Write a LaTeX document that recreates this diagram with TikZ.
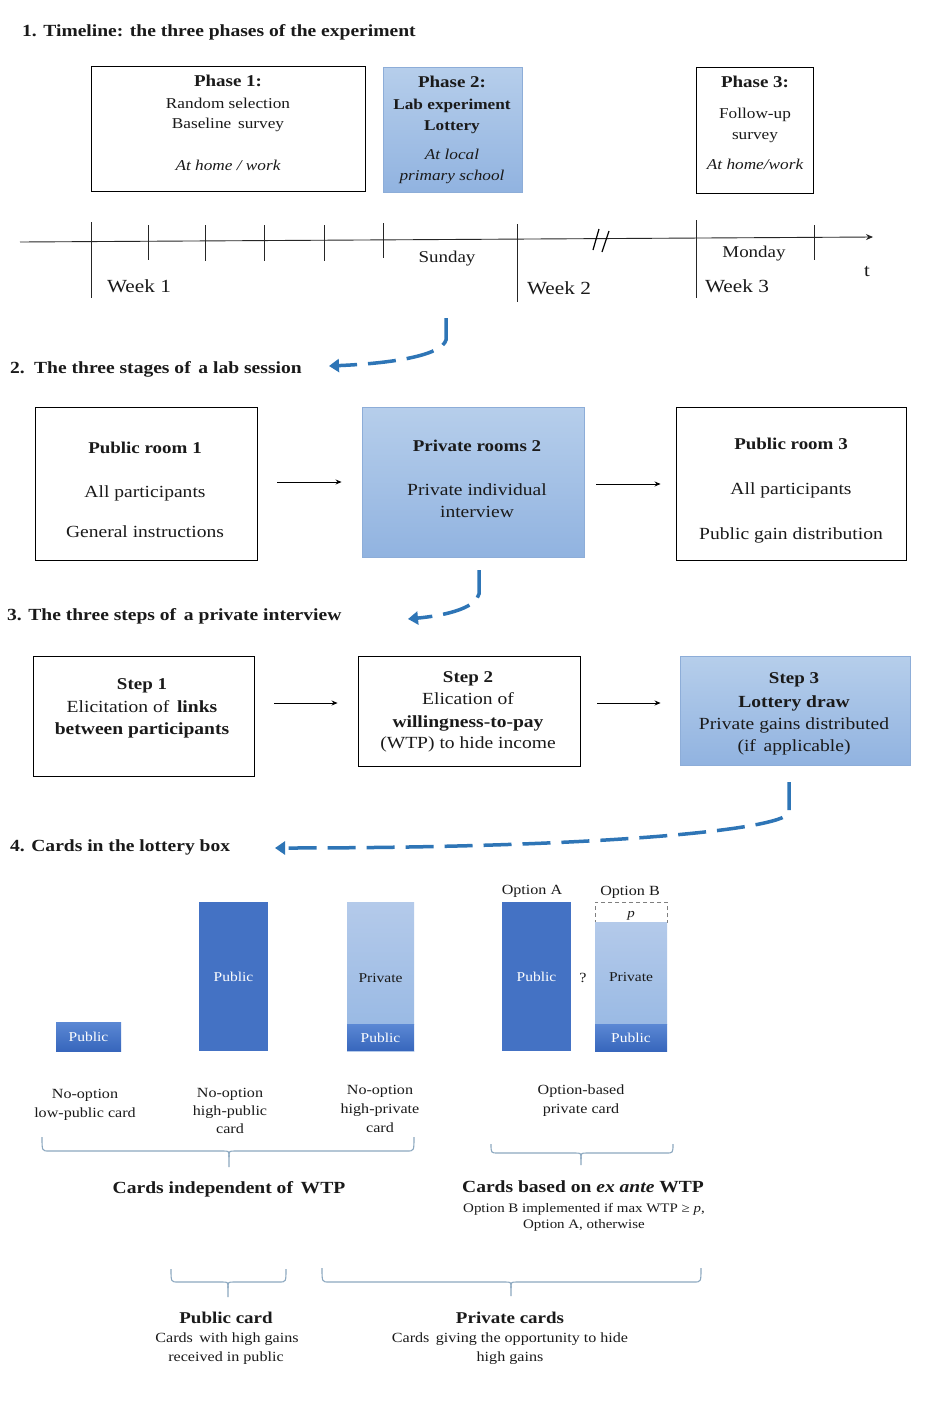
\documentclass[tikz,border=0pt]{standalone}
\usepackage{fontspec}
\setmainfont{Liberation Serif}[FakeStretch=1.15]
\usetikzlibrary{arrows.meta,calc}
\definecolor{arrowblue}{HTML}{2E75B6}
\definecolor{boxtop}{HTML}{B6CEEB}
\definecolor{boxbot}{HTML}{91B3E0}
\definecolor{boxline}{HTML}{8DADD8}
\definecolor{carddark}{HTML}{4472C4}
\definecolor{cardbtop}{HTML}{5B88D4}
\definecolor{cardbbot}{HTML}{3766BC}
\definecolor{cardltop}{HTML}{B4CAEA}
\definecolor{cardlbot}{HTML}{9ABAE4}
\definecolor{bracecol}{HTML}{8CA8C0}
\definecolor{txtcol}{HTML}{1A1A1A}
\definecolor{dashgray}{HTML}{7F7F7F}
\newcommand\fsz[1]{\fontsize{#1}{#1}\selectfont}
\newcommand\mybrace[6]{% x1 x2 xm ytop yh ybot
  \draw[bracepath] (#1,#4) .. controls (#1,#5) .. (#1+7,#5) -- (#3-6,#5)
     .. controls (#3,#5) .. (#3,#5+6) -- (#3,#6);
  \draw[bracepath] (#3,#5+6) .. controls (#3,#5) .. (#3+6,#5) -- (#2-7,#5)
     .. controls (#2,#5) .. (#2,#4);}
\tikzset{
  wbox/.style={draw=black, line width=0.9pt, fill=white, inner sep=0pt},
  bbox/.style={draw=boxline, line width=0.9pt, top color=boxtop, bottom color=boxbot, inner sep=0pt},
  tx/.style={inner sep=0pt, anchor=base, text=txtcol},
  ttl/.style={inner sep=0pt, anchor=base west, text=txtcol, font=\fsz{17}\bfseries},
  blk/.style={draw=black, line width=0.8pt, -{Stealth[length=6pt,width=5pt]}},
  bluedash/.style={draw=arrowblue, line width=3.5pt, dash pattern=on 28pt off 11pt,
     -{Triangle[length=10pt,width=13pt]}},
  tick/.style={draw=black!85, line width=0.9pt},
  bracepath/.style={draw=bracecol, line width=1.1pt},
  darkcard/.style={fill=carddark, draw=none, inner sep=0pt, text=white, font=\fsz{13.5}},
  botcard/.style={top color=cardbtop, bottom color=cardbbot, draw=none, inner sep=0pt, text=white, font=\fsz{13.5}},
  lightcard/.style={top color=cardltop, bottom color=cardlbot, draw=none, inner sep=0pt},
  dashcard/.style={draw=dashgray, dash pattern=on 4pt off 3pt, line width=0.9pt, fill=white, inner sep=0pt},
}
\begin{document}
\begin{tikzpicture}[x=1pt,y=-1pt]
\useasboundingbox (0,0) rectangle (935,1411);
\fill[white] (0,0) rectangle (935,1411);

% ---------------- Section 1
\node[ttl] (t1) at (22,36) {1. Timeline: the three phases of the experiment};

\node[wbox, minimum width=274pt, minimum height=125pt] (ph1) at (228,128.5) {};
\node[bbox, minimum width=139pt, minimum height=125pt] (ph2) at (452.5,129.5) {};
\node[wbox, minimum width=117pt, minimum height=126pt] (ph3) at (754.5,130) {};

\node[tx, font=\fsz{16.5}\bfseries] (ph1a) at (228,86) {Phase 1:};
\node[tx, font=\fsz{15}] (ph1b) at (228,108) {Random selection};
\node[tx, font=\fsz{15}] (ph1c) at (228,128) {Baseline\, survey};
\node[tx, font=\fsz{15}\itshape] (ph1d) at (228,170) {At home / work};

\node[tx, font=\fsz{16.5}\bfseries] (ph2a) at (452,87) {Phase 2:};
\node[tx, font=\fsz{15}\bfseries] (ph2b) at (452,109) {Lab experiment};
\node[tx, font=\fsz{15}\bfseries] (ph2c) at (452,130) {Lottery};
\node[tx, font=\fsz{15}\itshape] (ph2d) at (452,159) {At local};
\node[tx, font=\fsz{15}\itshape] (ph2e) at (452,180) {primary school};

\node[tx, font=\fsz{16.5}\bfseries] (ph3a) at (755,87) {Phase 3:};
\node[tx, font=\fsz{15}] (ph3b) at (755,118) {Follow-up};
\node[tx, font=\fsz{15}] (ph3c) at (755,139) {survey};
\node[tx, font=\fsz{15}\itshape] (ph3d) at (755,169) {At home/work};

% timeline axis
\coordinate (ax0) at (20,242);
\coordinate (ax1) at (873,237);
\draw[black!85, line width=0.9pt, -{Stealth[length=7pt,width=6pt]}] (ax0) -- (ax1);
\draw[tick] (91,222) -- (91,298);
\draw[tick] (148,225) -- (148,260);
\draw[tick] (205,225) -- (205,261);
\draw[tick] (264,225) -- (264,261);
\draw[tick] (324,225) -- (324,261);
\draw[tick] (383,223) -- (383,258);
\draw[tick] (517,224) -- (517,302);
\draw[tick] (696,220) -- (696,298);
\draw[tick] (814,225) -- (814,260);
% break mark
\draw[black, line width=1.2pt] (593,250) -- (599,229);
\draw[black, line width=1.2pt] (602,252) -- (609,231);

\node[tx, font=\fsz{18.5}] (w1) at (139,292) {Week 1};
\node[tx, font=\fsz{16.5}] (sun) at (447,262) {Sunday};
\node[tx, font=\fsz{18.5}] (w2) at (559,294) {Week 2};
\node[tx, font=\fsz{16.5}] (mon) at (754,257) {Monday};
\node[tx, font=\fsz{18.5}] (w3) at (737,292) {Week 3};
\node[tx, font=\fsz{18}] (tt) at (867,276) {t};

% dashed arrow 1
\coordinate (a1s) at (446,318);
\coordinate (a1e) at (329,366);
\draw[bluedash] (a1s) -- (446,340) .. controls (442,354) and (400,363) .. (a1e);

% ---------------- Section 2
\node[ttl] (t2) at (10,373) {2.\, The three stages of\, a lab session};

\node[wbox, minimum width=222pt, minimum height=153pt] (r1) at (146,483.5) {};
\node[bbox, minimum width=222pt, minimum height=150pt] (r2) at (473,482) {};
\node[wbox, minimum width=230pt, minimum height=153pt] (r3) at (791,483.5) {};

\node[tx, font=\fsz{16.5}\bfseries] (r1a) at (145,453) {Public room 1};
\node[tx, font=\fsz{17}] (r1b) at (145,497) {All participants};
\node[tx, font=\fsz{17}] (r1c) at (145,537) {General instructions};

\node[tx, font=\fsz{16.5}\bfseries] (r2a) at (477,451) {Private rooms 2};
\node[tx, font=\fsz{17}] (r2b) at (477,495) {Private individual};
\node[tx, font=\fsz{17}] (r2c) at (477,517) {interview};

\node[tx, font=\fsz{16.5}\bfseries] (r3a) at (791,449) {Public room 3};
\node[tx, font=\fsz{17}] (r3b) at (791,494) {All participants};
\node[tx, font=\fsz{17}] (r3c) at (791,539) {Public gain distribution};

\draw[blk, shorten <=20pt, shorten >=20pt] ([yshift=1.5pt]r1.east) -- ([yshift=1.5pt]r1.east -| r2.west);
\draw[blk, shorten <=12pt, shorten >=15pt] ([yshift=-2pt]r2.east) -- ([yshift=-2pt]r2.east -| r3.west);

% dashed arrow 2
\coordinate (a2s) at (479,570);
\coordinate (a2e) at (408,619);
\draw[bluedash] (a2s) -- (479,594) .. controls (476,607) and (450,615) .. (a2e);

% ---------------- Section 3
\node[ttl] (t3) at (7,620) {3. The three steps of\, a private interview};

\node[wbox, minimum width=221pt, minimum height=120pt] (s1) at (143.5,716) {};
\node[wbox, minimum width=222pt, minimum height=110pt] (s2) at (469,711) {};
\node[bbox, minimum width=230pt, minimum height=109pt] (s3) at (795,710.5) {};

\node[tx, font=\fsz{16.5}\bfseries] (s1a) at (142,689) {Step 1};
\node[tx, font=\fsz{17}] (s1b) at (142,712) {Elicitation of\, \textbf{links}};
\node[tx, font=\fsz{17}\bfseries] (s1c) at (142,734) {between participants};

\node[tx, font=\fsz{16.5}\bfseries] (s2a) at (468,682) {Step 2};
\node[tx, font=\fsz{17}] (s2b) at (468,704) {Elication of};
\node[tx, font=\fsz{17}\bfseries] (s2c) at (468,727) {willingness-to-pay};
\node[tx, font=\fsz{17}] (s2d) at (468,748) {(WTP) to hide income};

\node[tx, font=\fsz{16.5}\bfseries] (s3a) at (794,683) {Step 3};
\node[tx, font=\fsz{17}\bfseries] (s3b) at (794,707) {Lottery draw};
\node[tx, font=\fsz{17}] (s3c) at (794,729) {Private gains distributed};
\node[tx, font=\fsz{17}] (s3d) at (794,751) {(if\, applicable)};

\draw[blk, shorten <=20pt, shorten >=20pt] ([yshift=13pt]s1.east) -- ([yshift=13pt]s1.east -| s2.west);
\draw[blk, shorten <=17pt, shorten >=19pt] ([yshift=8pt]s2.east) -- ([yshift=8pt]s2.east -| s3.west);

% dashed arrow 3
\coordinate (a3s) at (789,782);
\coordinate (a3e) at (275,848);
\draw[bluedash] (a3s) -- (789,813) .. controls (780,830) and (600,848) .. (a3e);

% ---------------- Section 4
\node[ttl] (t4) at (10,851) {4. Cards in the lottery box};

\node[botcard, minimum width=65pt, minimum height=29pt] (c1) at (88.5,1036.5) {Public};
\node[darkcard, minimum width=69pt, minimum height=149pt] (c2) at (233.5,976.5) {Public};
\node[lightcard, minimum width=67pt, minimum height=122pt] (c3t) at (380.5,963) {};
\node[botcard, minimum width=67pt, minimum height=27pt] (c3b) at (380.5,1037.5) {Public};
\draw[cardltop, line width=1.2pt] (c3b.south west) -- (c3b.south east);
\node[tx, font=\fsz{13.5}] (c3l) at (380.5,982) {Private};
\node[darkcard, minimum width=69pt, minimum height=149pt] (c4) at (536.5,976.5) {Public};
\node[dashcard, minimum width=72pt, minimum height=20pt] (c5p) at (631,912) {};
\node[lightcard, minimum width=72pt, minimum height=102pt] (c5t) at (631,973) {};
\node[botcard, minimum width=72pt, minimum height=27pt] (c5b) at (631,1037.5) {Public};
\node[tx, font=\fsz{13.5}] (c5l) at (631,981) {Private};
\node[tx, font=\fsz{13}\itshape] (c5pl) at (631,917) {p};
\node[tx, font=\fsz{14}] (q) at (583,982) {?};
\node[tx, font=\fsz{14}] (oa) at (532,894) {Option A};
\node[tx, font=\fsz{14}] (ob) at (630,895) {Option B};

\node[tx, font=\fsz{14}] (l1a) at (85,1098) {No-option};
\node[tx, font=\fsz{14}] (l1b) at (85,1117) {low-public card};
\node[tx, font=\fsz{14}] (l2a) at (230,1097) {No-option};
\node[tx, font=\fsz{14}] (l2b) at (230,1115) {high-public};
\node[tx, font=\fsz{14}] (l2c) at (230,1133) {card};
\node[tx, font=\fsz{14}] (l3a) at (380,1094) {No-option};
\node[tx, font=\fsz{14}] (l3b) at (380,1113) {high-private};
\node[tx, font=\fsz{14}] (l3c) at (380,1132) {card};
\node[tx, font=\fsz{14}] (l4a) at (581,1094) {Option-based};
\node[tx, font=\fsz{14}] (l4b) at (581,1113) {private card};

\mybrace{42}{414}{229}{1137}{1151}{1167}
\mybrace{491}{673}{581}{1144}{1153}{1165}

\node[tx, font=\fsz{17}\bfseries] (g1) at (229,1193) {Cards independent of\, WTP};
\node[tx, font=\fsz{17}\bfseries] (g2) at (583,1192) {Cards based on \textit{ex ante} WTP};
\node[tx, font=\fsz{13}] (g2b) at (584,1212) {Option B implemented if max WTP ≥ \textit{p},};
\node[tx, font=\fsz{13}] (g2c) at (584,1228) {Option A, otherwise};

\mybrace{171}{286}{228}{1269}{1282}{1297}
\mybrace{322}{701}{511}{1268}{1282}{1296}

\node[tx, font=\fsz{16.5}\bfseries] (h1) at (226,1323) {Public card};
\node[tx, font=\fsz{14}] (h1b) at (227,1342) {Cards\, with high gains};
\node[tx, font=\fsz{14}] (h1c) at (226,1361) {received in public};
\node[tx, font=\fsz{16.5}\bfseries] (h2) at (510,1323) {Private cards};
\node[tx, font=\fsz{14}] (h2b) at (510,1342) {Cards\, giving the opportunity to hide};
\node[tx, font=\fsz{14}] (h2c) at (510,1361) {high gains};
\end{tikzpicture}
\end{document}
